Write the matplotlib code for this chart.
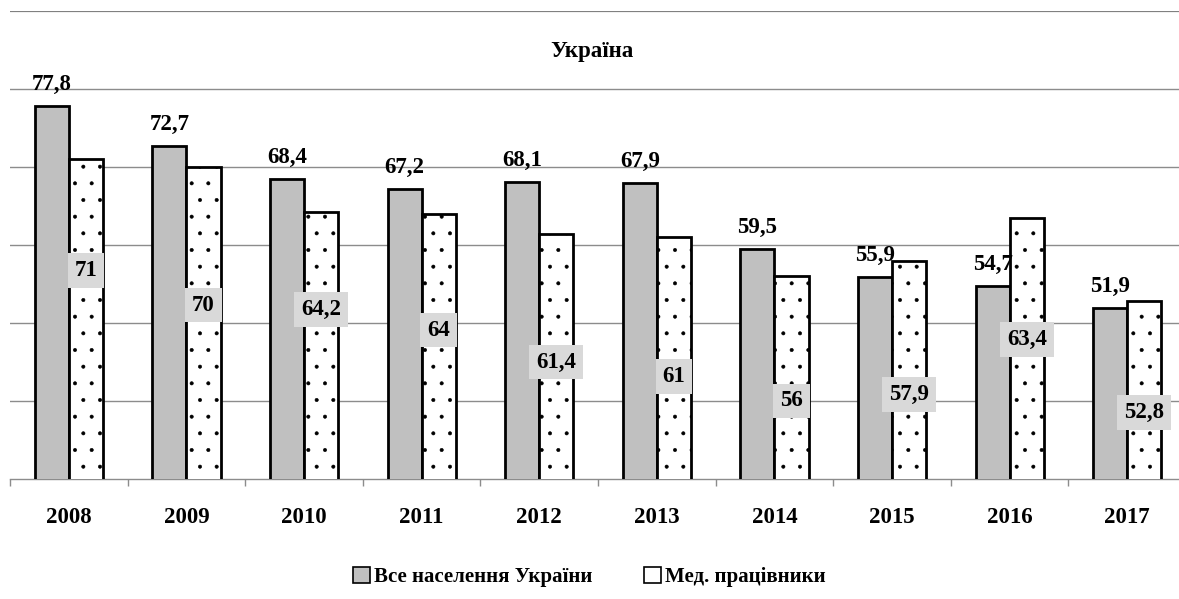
import matplotlib.pyplot as plt
from matplotlib.patches import Patch
import numpy as np

years = ["2008", "2009", "2010", "2011", "2012", "2013", "2014", "2015", "2016", "2017"]
all_pop = [77.8, 72.7, 68.4, 67.2, 68.1, 67.9, 59.5, 55.9, 54.7, 51.9]
med = [71, 70, 64.2, 64, 61.4, 61, 56, 57.9, 63.4, 52.8]
med_labels = ["71", "70", "64,2", "64", "61,4", "61", "56", "57,9", "63,4", "52,8"]
# where the gray label boxes sit (chart units, as placed in the source)
med_label_y = [56.7, 52.3, 51.7, 49.1, 45.0, 43.1, 40.0, 40.8, 47.9, 38.5]

plt.rcParams["font.family"] = ["Liberation Serif", "DejaVu Serif"]
plt.rcParams["font.weight"] = "bold"
plt.rcParams["hatch.linewidth"] = 0.4

fig = plt.figure(figsize=(11.79, 5.99), dpi=100)
ax = fig.add_axes([10 / 1179, 1 - 479 / 599, 1169 / 1179, 468 / 599])

x = np.arange(len(years))
w = 0.29
ax.bar(x - w / 2, all_pop, w, color="#c0c0c0", edgecolor="black", linewidth=2.0, zorder=3)
ax.bar(x + w / 2, med, w, color="white", edgecolor="black", hatch=".", linewidth=2.0, zorder=3)

for i, v in enumerate(all_pop):
    ax.annotate(str(v).replace(".", ","), (x[i] - w / 2, v), xytext=(0, 8), textcoords="offset points",
                ha="center", va="bottom", fontsize=16.5, fontweight="bold", zorder=5)

for i, lab in enumerate(med_labels):
    ax.text(x[i] + w / 2, med_label_y[i], lab, ha="center", va="center", fontsize=16.5, fontweight="bold",
            zorder=5, bbox=dict(boxstyle="square,pad=0.3", facecolor="#d9d9d9", edgecolor="none"))

ax.set_ylim(30, 90)
ax.set_xlim(-0.5, 9.44)
ax.set_yticks([40, 50, 60, 70, 80])
ax.yaxis.grid(True, color="#8c8c8c", linewidth=1.0, zorder=0)
ax.axhline(90, color="#808080", linewidth=1.6, zorder=0)
ax.tick_params(axis="y", left=False, labelleft=False)
for s in ["left", "right", "top"]:
    ax.spines[s].set_visible(False)
ax.spines["bottom"].set_color("#8c8c8c")
ax.spines["bottom"].set_linewidth(1.0)

ax.set_xticks(x)
ax.set_xticklabels(years, fontsize=16.5, fontweight="bold")
ax.set_xticks(np.arange(-0.5, 9.5, 1), minor=True)
ax.tick_params(axis="x", which="major", length=0, pad=20)
ax.tick_params(axis="x", which="minor", length=5, color="#8c8c8c", width=1.0)

fig.text(592 / 1179, 1 - 52 / 599, "Україна", ha="center", va="center", fontsize=16.5, fontweight="bold")

handles = [Patch(facecolor="#c0c0c0", edgecolor="black", linewidth=1.2, label="Все населення України"),
           Patch(facecolor="white", edgecolor="black", linewidth=1.2, label="Мед. працівники")]
fig.legend(handles=handles, loc="center", bbox_to_anchor=(0.5, 1 - 577 / 599), ncol=2, frameon=False,
           prop={"size": 15, "weight": "bold"}, handlelength=0.8, handleheight=0.8, handletextpad=0.2,
           columnspacing=2.5)

fig.savefig("out.png", dpi=100)
